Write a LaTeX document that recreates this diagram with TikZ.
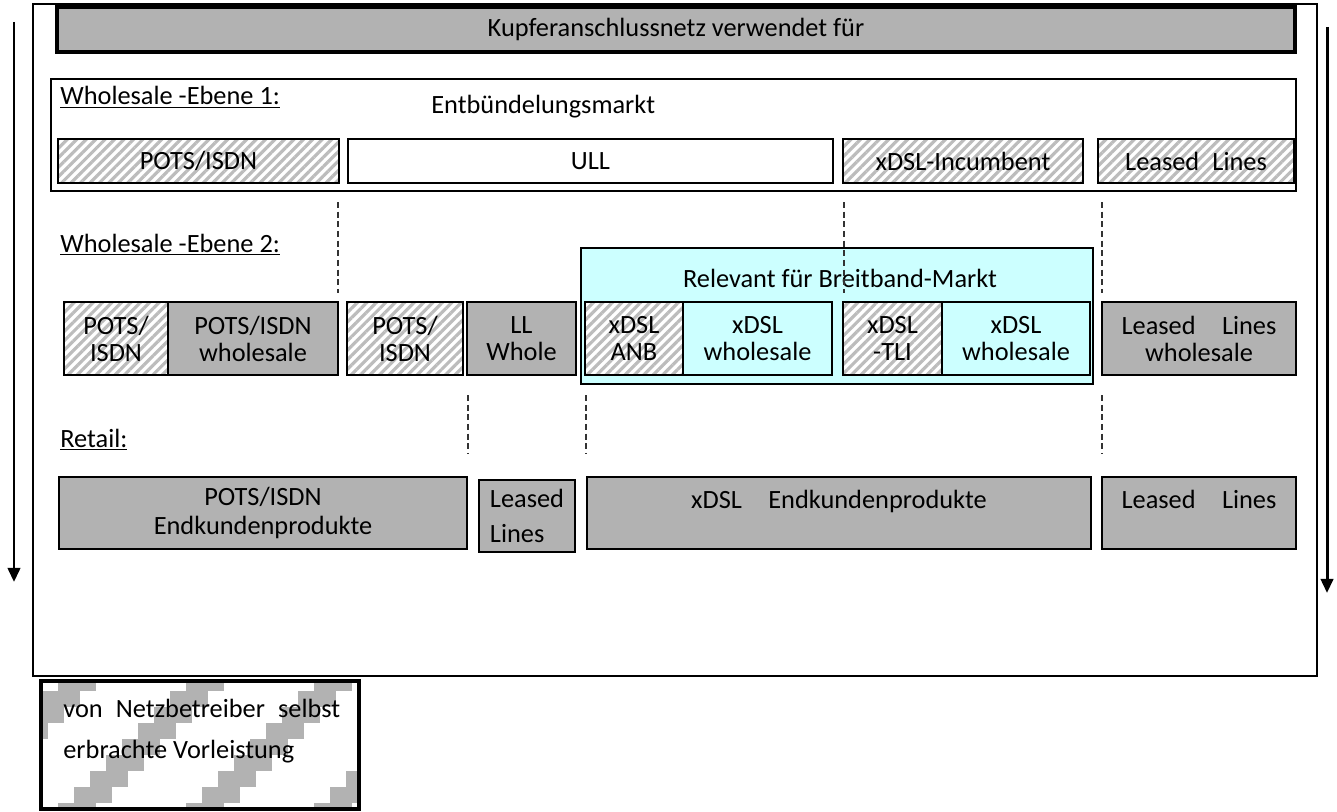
\documentclass[tikz,border=0pt]{standalone}
\usepackage{fontspec}
\setmainfont{Carlito}
\usetikzlibrary{patterns.meta,arrows.meta}
\definecolor{kastengrau}{RGB}{178,178,178}
\definecolor{breitband}{RGB}{204,255,255}
\definecolor{streifen}{RGB}{188,188,188}
\tikzset{
  kasten/.style={draw,line width=1.4pt,inner sep=0pt,align=center},
  masse/.style 2 args={minimum width=#1*0.02cm,minimum height=#2*0.02cm},
  grau/.style={kasten,fill=kastengrau},
  weiss/.style={kasten,fill=white},
  tuerkis/.style={kasten,fill=breitband},
  schraffiert/.style={kasten,preaction={fill=white},
    pattern={Lines[angle=45,distance=3.8pt,line width=1.8pt]},pattern color=streifen},
  zweizeilig/.style={font=\fontsize{15}{15.4}\selectfont},
  trenner/.style={line width=0.7pt,black!80,dash pattern=on 3.5pt off 2pt},
  titel/.style={anchor=base west,inner sep=0pt},
  pfeil/.style={line width=1.7pt,-{Triangle[length=8pt,width=7pt]}},
}
\begin{document}
\begin{tikzpicture}[x=0.02cm,y=-0.02cm,font=\fontsize{15}{18}\selectfont]
\useasboundingbox (0,0) rectangle (1337,811);
% Rahmen und Pfeile
\draw[line width=0.8pt] (33,4) rectangle (1317,676);
\draw[pfeil] (14,22) -- (14,582);
\draw[pfeil] (1327,27) -- (1327,593);
\node[grau,masse={1238}{45},line width=2.3pt] (kupfer) at (676,29.5) {Kupferanschlussnetz verwendet für};

% Wholesale Ebene 1
\draw[line width=0.8pt] (51,79) rectangle (1296,191);
\node[titel] (ebene1) at (60,105) {\underline{Wholesale -Ebene 1:}};
\node[titel] (entb) at (431,113) {Entbündelungsmarkt};
\node[schraffiert,masse={281}{44}] (e1pots) at (198.5,161) {POTS/ISDN};
\node[weiss,masse={485}{44}] (e1ull) at (590.5,161) {ULL};
\node[schraffiert,masse={240}{44}] (e1xdsl) at (963,161) {xDSL-Incumbent};
\node[schraffiert,masse={196}{44}] (e1ll) at (1196,161) {Leased\enspace Lines};

% Wholesale Ebene 2
\node[titel] (ebene2) at (60,252) {\underline{Wholesale -Ebene 2:}};
\node[kasten,fill=breitband,line width=0.8pt,masse={512}{136}] (breit) at (837,316) {};
\node[anchor=base] (relevant) at (840,287) {Relevant für Breitband-Markt};
\foreach \x in {338,844,1102}
  \draw[trenner] (\x,202) -- (\x,293);
\node[schraffiert,zweizeilig,masse={104}{73}] (w2pa) at (116,338.5) {POTS/\\ISDN};
\node[grau,zweizeilig,masse={170}{73}] (w2pb) at (253,338.5) {POTS/ISDN\\wholesale};
\node[schraffiert,zweizeilig,masse={116}{73}] (w2pc) at (405,338.5) {POTS/\\ISDN};
\node[grau,zweizeilig,masse={109}{73}] (w2ll) at (521.5,338.5) {LL\\Whole};
\node[schraffiert,zweizeilig,masse={98}{73}] (w2anb) at (634,338.5) {xDSL\\ANB};
\node[tuerkis,zweizeilig,masse={149}{73}] (w2wa) at (757.5,338.5) {xDSL\\wholesale};
\node[schraffiert,zweizeilig,masse={99}{73}] (w2tli) at (892.5,338.5) {xDSL\\-TLI};
\node[tuerkis,zweizeilig,masse={148}{73}] (w2wb) at (1016,338.5) {xDSL\\wholesale};
\node[grau,zweizeilig,masse={194}{73}] (w2llw) at (1199,338.5) {Leased\quad Lines\\wholesale};

% Retail
\foreach \x in {468,586,1102}
  \draw[trenner] (\x,395) -- (\x,453);
\node[titel] (retail) at (60,447) {\underline{Retail:}};
\node[grau,font=\fontsize{15}{16}\selectfont,masse={408}{72}] (r3pots) at (263,513) {POTS/ISDN\\Endkundenprodukte};
\node[grau,align=left,font=\fontsize{15}{20}\selectfont,masse={96}{72}] (r3ll) at (527,516) {Leased\\Lines};
\node[grau,text depth=16pt,masse={504}{72}] (r3xdsl) at (839,513) {xDSL\quad Endkundenprodukte};
\node[grau,text depth=16pt,masse={194}{72}] (r3llb) at (1199,513) {Leased\quad Lines};

% Legende
\begin{scope}
  \clip (41,681) rectangle (359,809);
  \foreach \n in {-2,...,3}
    \foreach \m in {-1,...,8}
      \fill[kastengrau] (58+128*\n+16*\m,803-16*\m) rectangle ++(38,16);
\end{scope}
\node[kasten,line width=2.3pt,masse={318}{128}] (legende) at (200,745) {};
\node[titel,align=left,font=\fontsize{15}{23}\selectfont] (legtext) at (63,758) {von\enspace Netzbetreiber\enspace selbst\\erbrachte Vorleistung};
\end{tikzpicture}
\end{document}
